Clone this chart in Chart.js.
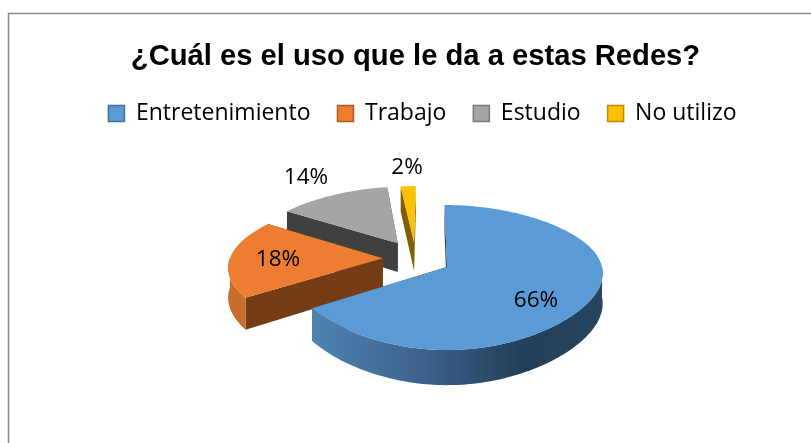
<!DOCTYPE html>
<html><head><meta charset="utf-8">
<style>html,body{margin:0;padding:0;background:#fff}#w{position:relative;width:811px;height:443px}
canvas{position:absolute;left:0;top:0}</style>
<script src="https://cdn.jsdelivr.net/npm/chart.js@4"></script></head>
<body><div id="w"><canvas id="c" width="811" height="443"></canvas></div>
<script>
const categories = ['Entretenimiento', 'Trabajo', 'Estudio', 'No utilizo'];
const shares = [66, 18, 14, 2];
const titleText = '¿Cuál es el uso que le da a estas Redes?';

const topColors = ['#5B9BD5', '#ED7D31', '#A5A5A5', '#FFC000'];
const borderColors = ['#41719C', '#AE5A21', '#787878', '#BC8C00'];
const cutColors = ['#1F3A5A', '#763C16', '#404040', '#7F6000'];
const wallColors = [null, '#C96D2B', '#7A7A7A', '#BF9000'];
const explode = [[0, 0], [-0.42, 0.127], [-0.33, 0.35], [-0.22, 0.365]];
const labelAt = [[536, 301], [278, 260], [306, 178], [407, 168]];
const paintOrder = [3, 2, 1, 0];

const view = {x0: 447, y0: 267, rx: 155, ry: 71, py: 0.145, depth: 30};
function project(u, v, down) {
  const sy = 1 / (1 + view.py * v);
  const sx = 1 / (1 + 0.1 * v + 0.08 * v * v);
  const shear = v > 0 ? 2.5 * v * v : 0;
  return [view.x0 + u * view.rx * sx - shear, view.y0 - v * view.ry * sy + (down ? view.depth * sy : 0)];
}
function poly(ctx, pts, fill) {
  ctx.beginPath();
  pts.forEach((p, i) => i ? ctx.lineTo(p[0], p[1]) : ctx.moveTo(p[0], p[1]));
  ctx.closePath();
  ctx.fillStyle = fill;
  ctx.fill();
}
const pie3d = {
  id: 'pie3d',
  beforeDatasetDraw(chart) {
    const ctx = chart.ctx;
    const arcs = chart.getDatasetMeta(0).data;
    ctx.save();
    for (const i of paintOrder) {
      const a0 = arcs[i].startAngle + Math.PI / 2, a1 = arcs[i].endAngle + Math.PI / 2;
      const [du, dv] = explode[i];
      const n = Math.max(6, Math.ceil((a1 - a0) * 40));
      const rim = [], front = [];
      for (let k = 0; k <= n; k++) {
        const t = a0 + (a1 - a0) * k / n;
        const p = [du + Math.sin(t), dv + Math.cos(t)];
        rim.push(p);
        if (Math.cos(t) < 0.02) front.push(p);
      }
      const up = rim.map(p => project(p[0], p[1], false));
      const c = project(du, dv, false), cd = project(du, dv, true);
      const dnEnd = project(rim[n][0], rim[n][1], true), dnStart = project(rim[0][0], rim[0][1], true);
      // cut faces
      poly(ctx, [c, up[n], dnEnd, cd], cutColors[i]);
      poly(ctx, [c, up[0], dnStart, cd], cutColors[i]);
      // outer wall, only the part that faces the viewer
      if (front.length > 1) {
        let wall = wallColors[i];
        if (i === 0) {
          const g = ctx.createLinearGradient(315, 0, 602, 0);
          g.addColorStop(0, '#4F82B3');
          g.addColorStop(0.4, '#3A6088');
          g.addColorStop(0.72, '#243F58');
          g.addColorStop(1, '#274560');
          wall = g;
        }
        const fu = front.map(p => project(p[0], p[1], false));
        const fd = front.map(p => project(p[0], p[1], true)).reverse();
        poly(ctx, fu.concat(fd), wall);
      }
      // top
      poly(ctx, [c].concat(up), topColors[i]);
    }
    ctx.restore();
    return false;
  },
  afterDatasetsDraw(chart) {
    const ctx = chart.ctx;
    ctx.save();
    ctx.fillStyle = '#000';
    ctx.font = '22.5px "Open Sans"';
    ctx.textAlign = 'center';
    ctx.textBaseline = 'middle';
    shares.forEach((s, i) => ctx.fillText(s + '%', labelAt[i][0], labelAt[i][1]));
    // chart frame
    ctx.strokeStyle = '#8C8C8C';
    ctx.lineWidth = 1.5;
    ctx.beginPath();
    ctx.moveTo(8.5, 443); ctx.lineTo(8.5, 13.5); ctx.lineTo(811, 13.5);
    ctx.stroke();
    ctx.restore();
  },
  afterLayout(chart) {
    const l = chart.legend;
    l.left += 7; l.right += 7;
    l.top += 1; l.bottom += 1;
  }
};
new Chart(document.getElementById('c'), {
  type: 'pie',
  data: {labels: categories, datasets: [{data: shares, backgroundColor: topColors, borderColor: borderColors, borderWidth: 1.5}]},
  plugins: [pie3d],
  options: {
    responsive: false, animation: false,
    layout: {padding: {left: 20, top: 39, right: 0, bottom: 0}},
    plugins: {
      tooltip: {enabled: false},
      title: {display: true, text: titleText, color: '#000', font: {family: '"Liberation Sans"', size: 29.2, weight: 'bold'}, padding: {top: 0, bottom: 0}},
      legend: {position: 'top', labels: {font: {family: '"Open Sans"', size: 23}, color: '#000', boxWidth: 16, boxHeight: 16, padding: 27}}
    }
  }
});
</script></body></html>
